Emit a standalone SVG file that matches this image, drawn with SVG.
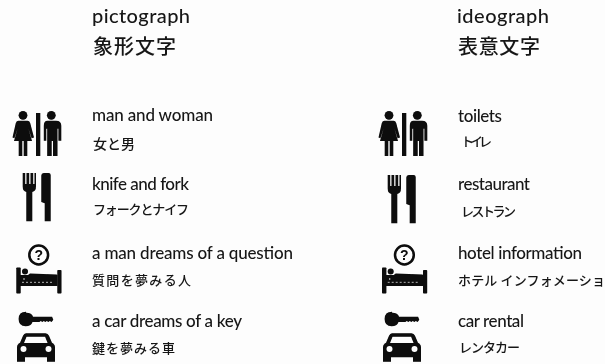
<svg xmlns="http://www.w3.org/2000/svg" width="605" height="364" viewBox="0 0 605 364">
<style>
text{fill:#161616;font-family:"Lato","Noto Sans CJK JP",sans-serif}
.jp{font-family:"Noto Sans CJK JP",sans-serif;font-weight:500}
.h{font-size:20px;font-weight:500}
.hj{font-size:20px;font-weight:500}
.l{font-size:17px;font-weight:500}
.s{font-size:13px}
.i{fill:#080808}
</style>
<defs>
<filter id="soft" x="-5%" y="-5%" width="110%" height="110%"><feGaussianBlur stdDeviation="0.4"/></filter>
<g id="toilet" class="i">
<circle cx="23" cy="115.300" r="4.400"/>
<path d="M18.500 120.700H27.500Q29.500 120.700 30.200 122.900L34 137.500 31.600 138.300 28.500 129 32 141H27.300V156H23.700V141H22.300V156H18.700V141H14L17.500 129 14.400 138.300 12.500 137.500 15.800 122.900Q16.500 120.700 18.500 120.700Z"/>
<rect x="36" y="113" width="4.300" height="43"/>
<circle cx="51.300" cy="115.300" r="4.400"/>
<path d="M47.500 120.700H56Q61.300 120.700 61.300 125.700V140.700H58.400V128.700H57.500V156H53V141H51.700V156H47.200V128.700H46.300V140.700H43.800V125.700Q43.800 120.700 47.500 120.700Z"/>
</g>
<g id="cutlery" class="i">
<path d="M22.700 173h2.500v11h1.300v-11h2.700v11h1.300v-11h2.700v11h1.300v-11h1.500v13.500q0 4.500-3.700 5.500v29.300h-6v-29.300q-3.600-1-3.600-5.500z"/>
<path d="M43.700 173h5q1.900 0 2 2v46.300h-6v-18l-3.400-1.300v-26.500q0-2.500 2.400-2.500z"/>
</g>
<g id="bed" class="i">
<circle cx="38.700" cy="255" r="9.400" fill="none" stroke="#080808" stroke-width="2.500"/>
<text x="38.700" y="260" text-anchor="middle" style="font-family:'Liberation Sans',sans-serif;font-size:14px;font-weight:700;fill:#080808">?</text>
<rect x="16.300" y="267.500" width="4.400" height="26" rx=".8"/>
<rect x="57.300" y="270" width="4.200" height="23.500" rx=".8"/>
<circle cx="25" cy="271.500" r="3"/>
<path d="M20 275h8l2-1.500 26.500 1 1 .5v11H20z"/>
<circle cx="24" cy="279" r=".8" fill="#eee"/>
<path d="M22 282.300h32" stroke="#e8e8e8" stroke-width=".8" stroke-dasharray="2 2"/>
</g>
<g id="keycar" class="i">
<path d="M26.300 312.700q5.500 0 6.800 4h19l1.200 3-1.700 2.200-1.800-.9-1.500 1-1.500-1-1.500 1-1.500-1-1.500 1-1.500-1-1.500 1h-6.800q-1.500 4.300-6.900 4.300-7 0-7-7.300t7.300-7.300z"/>
<path d="M26 333.300h19.500q2.500 0 3.500 2.500l3 7q3 1.500 3 4.500v14.400h-8v-4.500H25v4.500h-8v-14.400q0-3 3-4.500l3-7q1-2.500 3-2.500zM26.500 336.700l-2.500 6.300h23.600l-2.500-6.300z" fill-rule="evenodd"/>
<circle cx="23.500" cy="349" r="3" fill="#fdfdfd"/>
<circle cx="48.500" cy="349" r="3" fill="#fdfdfd"/>
</g>
</defs>
<rect width="605" height="364" fill="#fdfdfd"/>
<g filter="url(#soft)">
<g id="col-pictograph">
<text class="h" x="92" y="23" textLength="98">pictograph</text>
<text class="jp hj" x="93" y="54" textLength="83">象形文字</text>
</g>
<g id="col-ideograph">
<text class="h" x="457" y="23" textLength="92">ideograph</text>
<text class="jp hj" x="458" y="54" textLength="82">表意文字</text>
</g>
<g id="row1-left">
<use href="#toilet"/>
<text class="l" x="92" y="121" textLength="121">man and woman</text>
<text class="jp s" x="93" y="149" style="font-size:14px">女と男</text>
</g>
<g id="row1-right">
<use href="#toilet" x="366"/>
<text class="l" x="458" y="121.500" textLength="44">toilets</text>
<text class="jp s" x="461" y="146" textLength="31">トイレ</text>
</g>
<g id="row2-left">
<use href="#cutlery"/>
<text class="l" x="92" y="189.500" textLength="97">knife and fork</text>
<text class="jp s" x="93" y="214" textLength="96">フォークとナイフ</text>
</g>
<g id="row2-right">
<use href="#cutlery" x="365" y="2"/>
<text class="l" x="458" y="189.500" textLength="72">restaurant</text>
<text class="jp s" x="461" y="216" textLength="55">レストラン</text>
</g>
<g id="row3-left">
<use href="#bed"/>
<text class="l" x="92" y="258.500" textLength="201">a man dreams of a question</text>
<text class="jp s" x="92" y="285" textLength="99">質問を夢みる人</text>
</g>
<g id="row3-right">
<use href="#bed" x="365.700"/>
<text class="l" x="458" y="258.500" textLength="124">hotel information</text>
<text class="jp s" x="458" y="285" textLength="147">ホテル インフォメーショ</text>
</g>
<g id="row4-left">
<use href="#keycar"/>
<text class="l" x="92" y="326.500" textLength="150">a car dreams of a key</text>
<text class="jp s" x="92" y="353" textLength="83">鍵を夢みる車</text>
</g>
<g id="row4-right">
<use href="#keycar" x="366"/>
<text class="l" x="458" y="326.500" textLength="66">car rental</text>
<text class="jp s" x="459" y="352" textLength="61">レンタカー</text>
</g>
</g>
</svg>
